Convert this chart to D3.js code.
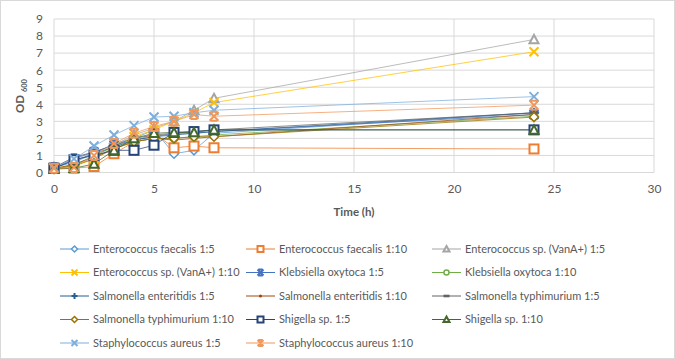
<!DOCTYPE html>
<html><head><meta charset="utf-8">
<script src="https://cdn.jsdelivr.net/npm/d3@7"></script>
<style>body{margin:0;background:#fff;} text{font-family:Lato,"Open Sans",sans-serif;}</style>
</head><body><svg id="c" width="675" height="359"></svg>
<script>
const times = [0,1,2,3,4,5,6,7,8,24];
const seriesNames = [
 "Enterococcus faecalis 1:5","Enterococcus faecalis 1:10","Enterococcus sp. (VanA+) 1:5",
 "Enterococcus sp. (VanA+) 1:10","Klebsiella oxytoca 1:5","Klebsiella oxytoca 1:10",
 "Salmonella enteritidis 1:5","Salmonella enteritidis 1:10","Salmonella typhimurium 1:5",
 "Salmonella typhimurium 1:10","Shigella sp. 1:5","Shigella sp. 1:10",
 "Staphylococcus aureus 1:5","Staphylococcus aureus 1:10"];
const efaecalis15   = [0.3,0.6,1.1,1.7,2.0,2.5,1.1,1.3,2.3,3.5];
const efaecalis110  = [0.25,0.25,0.35,1.1,1.8,2.3,1.45,1.55,1.45,1.38];
const evana15       = [0.3,0.4,0.9,1.6,2.2,2.6,3.0,3.65,4.35,7.8];
const evana110      = [0.3,0.35,0.8,1.5,2.1,2.5,3.0,3.5,4.1,7.08];
const koxy15        = [0.3,0.8,1.2,1.6,1.9,2.1,2.3,2.3,2.4,3.4];
const koxy110       = [0.2,0.4,1.0,1.5,1.8,2.0,2.0,2.1,2.2,3.3];
const sent15        = [0.25,0.7,1.1,1.5,1.9,2.1,2.2,2.3,2.4,3.5];
const sent110       = [0.2,0.5,0.9,1.4,1.8,2.0,1.9,2.0,2.1,3.4];
const styph15       = [0.3,0.9,1.2,1.6,2.0,2.2,2.3,2.4,2.5,3.5];
const styph110      = [0.2,0.4,0.8,1.4,1.8,2.0,2.0,2.1,2.1,3.25];
const shig15        = [0.25,0.75,1.0,1.3,1.3,1.6,2.35,2.4,2.5,2.5];
const shig110       = [0.2,0.25,0.5,1.3,2.0,2.3,2.35,2.35,2.5,2.5];
const saur15        = [0.3,0.8,1.55,2.2,2.75,3.25,3.3,3.5,3.65,4.45];
const saur110       = [0.25,0.3,1.0,1.7,2.3,2.7,3.0,3.4,3.3,3.95];
const allValues = [efaecalis15,efaecalis110,evana15,evana110,koxy15,koxy110,sent15,sent110,styph15,styph110,shig15,shig110,saur15,saur110];
const colors = ["#5B9BD5","#ED7D31","#A5A5A5","#FFC000","#4472C4","#70AD47","#255E91","#9E480E","#636363","#997300","#264478","#43682B","#7CAFDD","#F1975A"];
const markers = ["diamond","square","triangle","x","star","circle","plus","dot","dash","diamond","square","triangle","x","star"];
const xTicks = [0,5,10,15,20,25,30];
const yTicks = [0,1,2,3,4,5,6,7,8,9];

const svg = d3.select("#c");
svg.append("rect").attr("x",0.5).attr("y",0.5).attr("width",674).attr("height",358).attr("fill","#fff").attr("stroke","#d9d9d9");
const L=54,R=654,T=19,B=172.5;
const x = d3.scaleLinear().domain([0,30]).range([L,R]);
const y = d3.scaleLinear().domain([0,9]).range([B,T]);
const g = svg.append("g");
g.selectAll(".hg").data(yTicks).join("line").attr("x1",L).attr("x2",R).attr("y1",d=>y(d)).attr("y2",d=>y(d)).attr("stroke","#d9d9d9").attr("stroke-width",1);
g.selectAll(".vg").data(xTicks).join("line").attr("x1",d=>x(d)).attr("x2",d=>x(d)).attr("y1",T).attr("y2",B).attr("stroke","#d9d9d9").attr("stroke-width",1);
const xa = svg.append("g").attr("transform",`translate(0,${B})`).call(d3.axisBottom(x).tickValues(xTicks).tickSize(0).tickPadding(12));
xa.select(".domain").remove();
xa.selectAll("text").attr("fill","#595959").style("font-size","12px");
const ya = svg.append("g").attr("transform",`translate(${L},0)`).call(d3.axisLeft(y).tickValues(yTicks).tickSize(0).tickPadding(11));
ya.select(".domain").remove();
ya.selectAll("text").attr("fill","#595959").style("font-size","12px");
svg.append("text").attr("x",x(15)).attr("y",216).attr("text-anchor","middle").attr("fill","#595959").style("font-size","11.5px").style("font-weight","bold").text("Time (h)");
const yt = svg.append("text").attr("transform","translate(24,96) rotate(-90)").attr("text-anchor","middle").attr("fill","#595959").style("font-weight","bold").style("font-size","11.5px");
yt.append("tspan").text("OD ");
yt.append("tspan").style("font-size","7.5px").attr("dy","3").text("600");

function drawMarker(sel, type, color, s){
  const h=s/2;
  if(type==="diamond") sel.append("path").attr("d",`M0,${-h}L${h},0L0,${h}L${-h},0Z`).attr("fill","#fff").attr("stroke",color).attr("stroke-width",1.5);
  else if(type==="square") sel.append("rect").attr("x",-h).attr("y",-h).attr("width",s).attr("height",s).attr("fill","#fff").attr("stroke",color).attr("stroke-width",2);
  else if(type==="triangle") sel.append("path").attr("d",`M0,${-h}L${h},${h*0.85}L${-h},${h*0.85}Z`).attr("fill","#fff").attr("stroke",color).attr("stroke-width",2);
  else if(type==="x") sel.append("path").attr("d",`M${-h},${-h}L${h},${h}M${h},${-h}L${-h},${h}`).attr("stroke",color).attr("stroke-width",2);
  else if(type==="star") sel.append("path").attr("d",`M${-h},${-h}L${h},${h}M${h},${-h}L${-h},${h}M${-h*0.7},${-h}L${h*0.7},${-h}M${-h*0.7},${h}L${h*0.7},${h}`).attr("stroke",color).attr("stroke-width",2);
  else if(type==="circle") sel.append("circle").attr("r",h*0.85).attr("fill","#fff").attr("stroke",color).attr("stroke-width",1.5);
  else if(type==="plus") sel.append("path").attr("d",`M${-h},0L${h},0M0,${-h}L0,${h}`).attr("stroke",color).attr("stroke-width",2);
  else if(type==="dot") sel.append("circle").attr("r",1.6).attr("fill",color);
  else if(type==="dash") sel.append("rect").attr("x",-h).attr("y",-1.3).attr("width",s).attr("height",2.6).attr("fill",color);
}
const line = d3.line().x((d,i)=>x(times[i])).y(d=>y(d));
const sg = svg.append("g");
allValues.forEach((vals,si)=>{
  sg.append("path").datum(vals).attr("d",line).attr("fill","none").attr("stroke",colors[si]).attr("stroke-width",1).attr("stroke-opacity",0.75);
});
allValues.forEach((vals,si)=>{
  vals.forEach((v,i)=>{
    const m = sg.append("g").attr("transform",`translate(${x(times[i])},${y(v)})`);
    drawMarker(m, markers[si], colors[si], 9);
  });
});
// legend
const colX=[60,246,432], rowY=[249,272.5,296,319.5,343];
seriesNames.forEach((n,i)=>{
  const cx=colX[i%3], cy=rowY[Math.floor(i/3)];
  const lg = svg.append("g").attr("transform",`translate(${cx},${cy})`);
  lg.append("line").attr("x1",0).attr("x2",29).attr("stroke",colors[i]).attr("stroke-width",1);
  const m = lg.append("g").attr("transform","translate(14.5,0)");
  drawMarker(m, markers[i], colors[i], 6);
  lg.append("text").attr("x",33).attr("y",0).attr("dy","0.35em").attr("fill","#595959").style("font-size","11px").text(n);
});
</script></body></html>
